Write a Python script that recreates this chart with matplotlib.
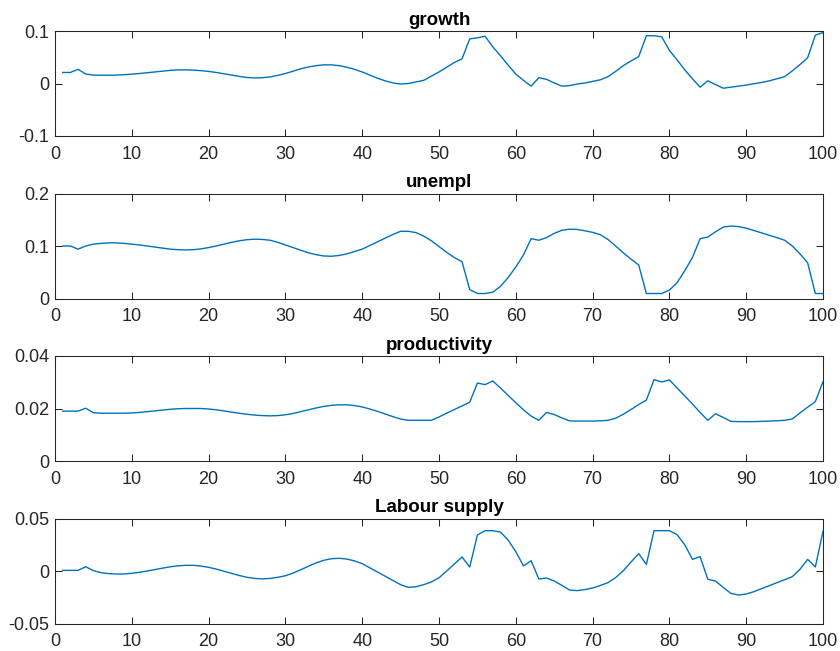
import matplotlib
matplotlib.use("Agg")
import matplotlib.pyplot as plt
from matplotlib.ticker import FixedLocator, FixedFormatter

plt.rcParams['font.family'] = ['Liberation Sans', 'DejaVu Sans']

periods = list(range(1, 101))

growth = [
    0.021, 0.021, 0.027, 0.018, 0.016, 0.0158, 0.0158, 0.016, 0.0168, 0.0178,
    0.019, 0.0205, 0.022, 0.0235, 0.025, 0.026, 0.026, 0.0255, 0.0245, 0.023,
    0.021, 0.0185, 0.016, 0.0135, 0.0115, 0.0105, 0.011, 0.0125, 0.0155, 0.019,
    0.0235, 0.028, 0.0315, 0.034, 0.0355, 0.0355, 0.034, 0.031, 0.027, 0.022,
    0.016, 0.010, 0.005, 0.001, -0.001, 0.000, 0.003, 0.006, 0.014, 0.022,
    0.031, 0.040, 0.047, 0.085, 0.087, 0.090, 0.070, 0.053, 0.035, 0.018,
    0.006, -0.005, 0.011, 0.008, 0.001, -0.005, -0.004, -0.001, 0.001, 0.004,
    0.007, 0.013, 0.023, 0.034, 0.043, 0.051, 0.091, 0.091, 0.089, 0.063,
    0.045, 0.026, 0.009, -0.007, 0.005, -0.002, -0.009, -0.007, -0.005, -0.003,
    -0.0005, 0.002, 0.005, 0.009, 0.013, 0.024, 0.036, 0.049, 0.092, 0.097,
]

unempl = [
    0.100, 0.100, 0.094, 0.100, 0.1035, 0.105, 0.106, 0.106, 0.105, 0.1035,
    0.102, 0.100, 0.098, 0.096, 0.094, 0.093, 0.0925, 0.093, 0.0945, 0.097,
    0.100, 0.1035, 0.107, 0.110, 0.112, 0.113, 0.1125, 0.111, 0.107, 0.102,
    0.097, 0.092, 0.087, 0.0835, 0.081, 0.0805, 0.082, 0.085, 0.0895, 0.094,
    0.101, 0.108, 0.115, 0.122, 0.128, 0.128, 0.1255, 0.119, 0.110, 0.099,
    0.088, 0.078, 0.070, 0.017, 0.0095, 0.0095, 0.012, 0.023, 0.040, 0.060,
    0.083, 0.114, 0.111, 0.116, 0.124, 0.130, 0.132, 0.1315, 0.129, 0.126,
    0.1215, 0.1125, 0.100, 0.087, 0.075, 0.064, 0.0095, 0.0095, 0.0095, 0.016,
    0.030, 0.053, 0.078, 0.114, 0.117, 0.127, 0.136, 0.138, 0.137, 0.134,
    0.1295, 0.125, 0.1205, 0.116, 0.111, 0.100, 0.085, 0.068, 0.0095, 0.0095,
]

productivity = [
    0.019, 0.019, 0.019, 0.0201, 0.0184, 0.0182, 0.0182, 0.0182, 0.0182, 0.0183,
    0.0185, 0.0188, 0.0191, 0.0194, 0.0197, 0.0199, 0.0200, 0.0200, 0.0200, 0.0198,
    0.0195, 0.0191, 0.0186, 0.0182, 0.0178, 0.0175, 0.0173, 0.0172, 0.0173, 0.0176,
    0.0181, 0.0188, 0.0195, 0.0202, 0.0208, 0.0212, 0.0214, 0.0214, 0.0211, 0.0206,
    0.0198, 0.0189, 0.0179, 0.0169, 0.0160, 0.0155, 0.0155, 0.0155, 0.0155, 0.0168,
    0.0182, 0.0196, 0.0210, 0.0224, 0.0297, 0.0291, 0.0305, 0.0278, 0.025, 0.0222,
    0.0195, 0.0171, 0.0155, 0.0185, 0.0177, 0.0164, 0.0153, 0.0152, 0.0152, 0.0152,
    0.0153, 0.0155, 0.0163, 0.0178, 0.0196, 0.0215, 0.0232, 0.031, 0.0301, 0.0309,
    0.0278, 0.0248, 0.0217, 0.0185, 0.0155, 0.018, 0.0166, 0.0151, 0.015, 0.015,
    0.015, 0.0151, 0.0152, 0.0153, 0.0155, 0.016, 0.0183, 0.0205, 0.0226, 0.0302,
]

labour_supply = [
    0.0006, 0.0006, 0.0006, 0.0041, 0.0003, -0.0016, -0.0025, -0.0029, -0.0028, -0.0022,
    -0.0012, 0.0000, 0.0013, 0.0027, 0.0040, 0.0049, 0.0054, 0.0054, 0.0047, 0.0035,
    0.0018, -0.0002, -0.0023, -0.0043, -0.0060, -0.0071, -0.0075, -0.0071, -0.0060, -0.0045,
    -0.0020, 0.0012, 0.0045, 0.0077, 0.0102, 0.0117, 0.0121, 0.0114, 0.0096, 0.0070,
    0.0030, -0.0010, -0.0050, -0.0090, -0.0130, -0.0156, -0.0150, -0.0130, -0.0105, -0.0065,
    0.0000, 0.0067, 0.0133, 0.0038, 0.0343, 0.0384, 0.0384, 0.0371, 0.0295, 0.0184,
    0.0048, 0.0098, -0.0076, -0.0067, -0.0095, -0.0137, -0.0181, -0.0187, -0.0177, -0.0162,
    -0.0138, -0.0111, -0.0063, 0.0003, 0.0086, 0.0165, 0.0063, 0.0384, 0.0384, 0.0384,
    0.0346, 0.025, 0.0111, 0.0137, -0.0079, -0.0095, -0.0156, -0.0213, -0.0229, -0.0219,
    -0.0197, -0.0168, -0.0140, -0.0111, -0.0083, -0.0054, 0.0016, 0.0111, 0.0038, 0.0378,
]

titles = ["growth", "unempl", "productivity", "Labour supply"]
series = [growth, unempl, productivity, labour_supply]
y_ticks = [[-0.1, 0, 0.1], [0, 0.1, 0.2], [0, 0.02, 0.04], [-0.05, 0, 0.05]]
y_tick_labels = [["-0.1", "0", "0.1"], ["0", "0.1", "0.2"],
                 ["0", "0.02", "0.04"], ["-0.05", "0", "0.05"]]
x_ticks = list(range(0, 101, 10))
x_tick_labels = [str(v) for v in x_ticks]

W, H = 840, 651
fig = plt.figure(figsize=(W / 100, H / 100), dpi=100)

axis_col = (0.15, 0.15, 0.15)
line_col = (0.0, 0.447, 0.741)
tops = [31, 193.5, 356, 518.5]
ax_h = 105
left_px, right_px = 55, 823

for i in range(4):
    bottom = 1 - (tops[i] + ax_h) / H
    ax = fig.add_axes([left_px / W, bottom, (right_px - left_px) / W, ax_h / H])
    ax.plot(periods, series[i], color=line_col, linewidth=1.0)
    ax.set_xlim(0, 100)
    ax.set_ylim(y_ticks[i][0], y_ticks[i][-1])
    ax.xaxis.set_major_locator(FixedLocator(x_ticks))
    ax.xaxis.set_major_formatter(FixedFormatter(x_tick_labels))
    ax.yaxis.set_major_locator(FixedLocator(y_ticks[i]))
    ax.yaxis.set_major_formatter(FixedFormatter(y_tick_labels[i]))
    ax.tick_params(direction='in', length=5, width=0.75, colors=axis_col,
                   labelcolor=axis_col, labelsize=13, top=True, right=True)
    ax.tick_params(axis='x', pad=7)
    ax.tick_params(axis='y', pad=4)
    for sp in ax.spines.values():
        sp.set_color(axis_col)
        sp.set_linewidth(0.75)
    ax.set_title(titles[i], fontsize=13.5, fontweight='bold', color='black', pad=4.5)

fig.savefig("out.png", dpi=100)
